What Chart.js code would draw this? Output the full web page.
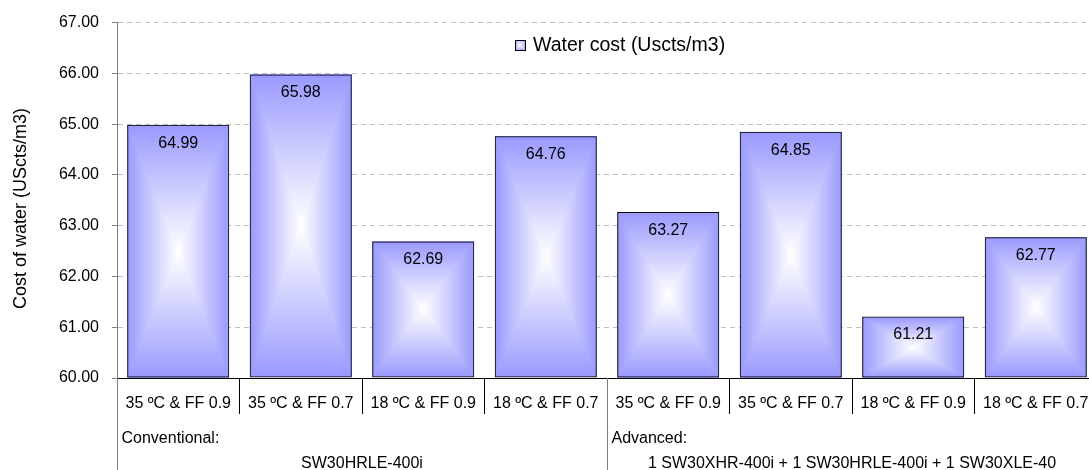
<!DOCTYPE html>
<html>
<head>
<meta charset="utf-8">
<script src="https://cdn.jsdelivr.net/npm/chart.js@4.4.1/dist/chart.umd.min.js"></script>
<style>
  html, body { margin: 0; padding: 0; background: #fff; overflow: hidden; }
  #wrap { position: relative; width: 1097px; height: 470px; }
</style>
</head>
<body>
<div id="wrap"><canvas id="c" width="1097" height="470"></canvas></div>
<script>
// ---- data ----
const categories = [
  '35 ºC & FF 0.9', '35 ºC & FF 0.7', '18 ºC & FF 0.9', '18 ºC & FF 0.7',
  '35 ºC & FF 0.9', '35 ºC & FF 0.7', '18 ºC & FF 0.9', '18 ºC & FF 0.7'
];
const waterCost = [64.99, 65.98, 62.69, 64.76, 63.27, 64.85, 61.21, 62.77];
const seriesLabel = 'Water cost (Uscts/m3)';
const yAxisTitle = 'Cost of water (UScts/m3)';
const yTicksMin = 60;
const yTicksMax = 67;
const yTicksStep = 1;

// configuration groups shown under the condition labels
const groupTitles = ['Conventional:', 'Advanced:'];
const groupMembranes = ['SW30HRLE-400i', '1 SW30XHR-400i + 1 SW30HRLE-400i + 1 SW30XLE-40'];
const groupFirstIndex = [0, 4];
const groupSize = [4, 4];

// ---- styling ----
const FONT = '"Liberation Sans", Arial, sans-serif';
const EDGE_RGB = [153, 153, 255];

// rectangular "from centre" gradient: white in the middle, periwinkle at the edges
function paintRectGradient(ctx, left, top, w, h, edge) {
  const W = Math.max(1, Math.round(w));
  const H = Math.max(1, Math.round(h));
  const off = document.createElement('canvas');
  off.width = W; off.height = H;
  const octx = off.getContext('2d');
  const img = octx.createImageData(W, H);
  const hw = W / 2, hh = H / 2;
  for (let y = 0; y < H; y++) {
    const dy = Math.abs(y + 0.5 - hh) / hh;
    for (let x = 0; x < W; x++) {
      const dx = Math.abs(x + 0.5 - hw) / hw;
      const f = Math.min(1, Math.max(dx, dy));
      const i = (y * W + x) * 4;
      img.data[i]     = Math.round(255 + (edge[0] - 255) * f);
      img.data[i + 1] = Math.round(255 + (edge[1] - 255) * f);
      img.data[i + 2] = Math.round(255 + (edge[2] - 255) * f);
      img.data[i + 3] = 255;
    }
  }
  octx.putImageData(img, 0, 0);
  ctx.drawImage(off, Math.round(left), Math.round(top));
}

const barFillPlugin = {
  id: 'barFill',
  beforeDatasetsDraw(chart) {
    const ctx = chart.ctx;
    const area = chart.chartArea;
    ctx.save();
    ctx.beginPath();
    ctx.rect(area.left, area.top, area.right - area.left, area.bottom - area.top);
    ctx.clip();
    chart.getDatasetMeta(0).data.forEach(bar => {
      const { x, y, base, width } = bar.getProps(['x', 'y', 'base', 'width'], true);
      const top = Math.min(y, base), bottom = Math.max(y, base);
      paintRectGradient(ctx, x - width / 2, top, width, bottom - top, EDGE_RGB);
    });
    ctx.restore();
  }
};

const valueLabelPlugin = {
  id: 'valueLabels',
  afterDatasetsDraw(chart) {
    const ctx = chart.ctx;
    ctx.save();
    ctx.font = '16px ' + FONT;
    ctx.fillStyle = '#000';
    ctx.textAlign = 'center';
    ctx.textBaseline = 'middle';
    chart.getDatasetMeta(0).data.forEach((bar, i) => {
      ctx.fillText(waterCost[i].toFixed(2), bar.x, bar.y + 18.5);
    });
    ctx.restore();
  }
};

const legendPlugin = {
  id: 'insideLegend',
  afterDraw(chart) {
    const ctx = chart.ctx;
    const mx = 515, my = 40, ms = 10;
    paintRectGradient(ctx, mx, my, ms, ms, [170, 170, 255]);
    ctx.save();
    ctx.strokeStyle = '#000';
    ctx.lineWidth = 1;
    ctx.strokeRect(mx + 0.5, my + 0.5, ms, ms);
    ctx.font = '19.5px ' + FONT;
    ctx.fillStyle = '#000';
    ctx.textAlign = 'left';
    ctx.textBaseline = 'middle';
    ctx.fillText(chart.data.datasets[0].label, 533, 46);
    ctx.restore();
  }
};

const axisTitlePlugin = {
  id: 'yTitle',
  afterDraw(chart) {
    const ctx = chart.ctx;
    ctx.save();
    ctx.translate(21, 208.5);
    ctx.rotate(-Math.PI / 2);
    ctx.font = '18px ' + FONT;
    ctx.fillStyle = '#000';
    ctx.textAlign = 'center';
    ctx.textBaseline = 'middle';
    ctx.fillText(yAxisTitle, 0, 0);
    ctx.restore();
  }
};

const groupLabelPlugin = {
  id: 'groupLabels',
  afterDraw(chart) {
    const ctx = chart.ctx;
    const xs = chart.scales.x;
    const area = chart.chartArea;
    const step = xs.getPixelForValue(1) - xs.getPixelForValue(0);
    ctx.save();
    ctx.font = '16px ' + FONT;
    ctx.fillStyle = '#000';
    groupTitles.forEach((title, g) => {
      const first = groupFirstIndex[g];
      const last = first + groupSize[g] - 1;
      const start = xs.getPixelForValue(first) - step / 2;
      const end = xs.getPixelForValue(last) + step / 2;
      const lx = Math.round(start) + 0.5;
      ctx.strokeStyle = '#808080';
      ctx.lineWidth = 1;
      ctx.beginPath();
      ctx.moveTo(lx, area.bottom);
      ctx.lineTo(lx, chart.height);
      ctx.stroke();
      ctx.textBaseline = 'alphabetic';
      ctx.textAlign = 'left';
      ctx.fillText(title, start + 4.5, 443);
      ctx.textAlign = 'center';
      ctx.fillText(groupMembranes[g], (start + end) / 2, 468);
    });
    ctx.restore();
  }
};

new Chart(document.getElementById('c'), {
  type: 'bar',
  data: {
    labels: categories,
    datasets: [{
      label: seriesLabel,
      data: waterCost,
      base: yTicksMin,
      backgroundColor: 'rgba(0,0,0,0)',
      borderColor: '#000',
      borderWidth: 1,
      borderSkipped: false,
      barPercentage: 0.833,
      categoryPercentage: 1.0
    }]
  },
  options: {
    responsive: false,
    animation: false,
    events: [],
    layout: { padding: { top: 20, left: 0, right: 0, bottom: 0 } },
    plugins: { legend: { display: false }, tooltip: { enabled: false } },
    scales: {
      x: {
        offset: true,
        grid: {
          offset: true,
          drawOnChartArea: false,
          drawTicks: true,
          tickLength: 36,
          color: '#000',
          tickColor: '#000',
          lineWidth: 1
        },
        border: { display: true, color: '#000', width: 1 },
        ticks: {
          font: { family: FONT, size: 16 },
          color: '#000',
          padding: -20,
          maxRotation: 0,
          autoSkip: false
        },
        afterFit(scale) { scale.height = 92; }
      },
      y: {
        min: yTicksMin,
        max: yTicksMax,
        ticks: {
          stepSize: yTicksStep,
          callback: v => Number(v).toFixed(2),
          font: { family: FONT, size: 16 },
          color: '#000',
          padding: 13
        },
        grid: {
          color: '#c0c0c0',
          tickColor: '#808080',
          tickLength: 5,
          tickBorderDash: [],
          drawTicks: true,
          lineWidth: 1
        },
        border: { display: true, color: '#808080', width: 1, dash: [5, 4] },
        afterFit(scale) { scale.width = 117; }
      }
    }
  },
  plugins: [barFillPlugin, valueLabelPlugin, legendPlugin, axisTitlePlugin, groupLabelPlugin]
});
</script>
</body>
</html>
